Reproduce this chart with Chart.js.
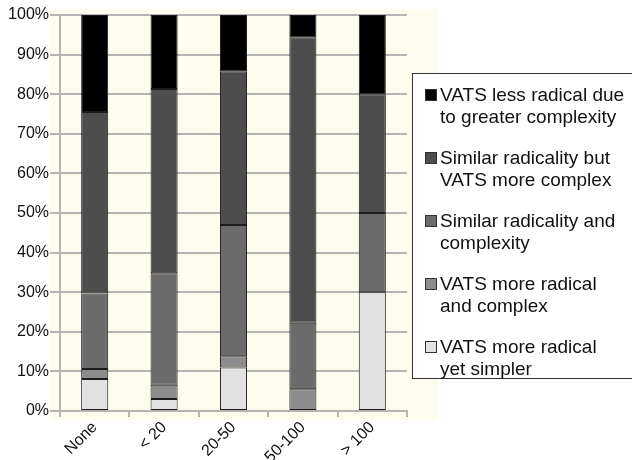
<!DOCTYPE html>
<html>
<head>
<meta charset="utf-8">
<script src="https://cdn.jsdelivr.net/npm/chart.js@4.4.1/dist/chart.umd.min.js"></script>
<style>
  html, body { margin: 0; padding: 0; background: #fff; }
  #wrap { position: relative; width: 632px; height: 460px; overflow: hidden; }
  #grafico { position: absolute; left: 0; top: 0; }
  #leyenda {
    position: absolute; left: 412px; top: 73px; width: 240px; height: 306px;
    border: 1.5px solid #333; background: #fff; box-sizing: border-box;
    font-family: "Liberation Sans", Arial, Helvetica, sans-serif; font-size: 19px;
    color: #111; padding-top: 10px;
  }
  .item { position: relative; padding-left: 27px; line-height: 22px; margin-bottom: 19px; }
  .caja { position: absolute; left: 12px; top: 5px; width: 10px; height: 10px; border: 1px solid #333; }
</style>
</head>
<body>
<div id="wrap">
  <canvas id="grafico" width="632" height="460"></canvas>
  <div id="leyenda"></div>
</div>
<script>
const categorias = ['None', '< 20', '20-50', '50-100', '> 100'];

// series from bottom of the stack to top
const seriesNombres = [
  ['VATS more radical', 'yet simpler'],
  ['VATS more radical', 'and complex'],
  ['Similar radicality and', 'complexity'],
  ['Similar radicality but', 'VATS more complex'],
  ['VATS less radical due', 'to greater complexity']
];
const masRadicalSimple = [8.1, 3.0, 11.0, 0, 30];
const masRadicalComplejo = [2.5, 3.6, 2.8, 5.5, 0];
const similarAmbos = [19.1, 28.2, 33.2, 16.8, 20];
const similarMasComplejo = [45.8, 46.5, 38.8, 72.1, 30];
const menosRadical = [24.5, 18.7, 14.2, 5.6, 20];
const colores = ['#e2e2e2', '#8c8c8c', '#6b6b6b', '#4d4d4d', '#000000'];

const valores = [masRadicalSimple, masRadicalComplejo, similarAmbos, similarMasComplejo, menosRadical];

const datasets = valores.map((v, i) => ({
  label: seriesNombres[i].join(' '),
  data: v,
  backgroundColor: colores[i],
  borderColor: '#1c1c1c',
  borderWidth: ctx => (ctx.raw ? 1 : 0), // no line for empty segments
  borderSkipped: false,
  barPercentage: 0.39,
  categoryPercentage: 1
}));

// cream plot background
const fondo = {
  id: 'fondo',
  beforeDraw(chart) {
    const a = chart.chartArea;
    const ctx = chart.ctx;
    ctx.save();
    ctx.fillStyle = '#fdfcef';
    ctx.fillRect(a.left - 10, a.top - 6, a.right - a.left + 41, a.bottom - a.top + 15);
    ctx.restore();
  }
};

const fuente = { family: '"Liberation Sans", Arial, Helvetica, sans-serif', size: 16 };
const gris = '#b4b4b4';

new Chart(document.getElementById('grafico').getContext('2d'), {
  type: 'bar',
  data: { labels: categorias, datasets: datasets },
  options: {
    responsive: false,
    devicePixelRatio: 1,
    animation: false,
    layout: { padding: { left: 0, right: 225, top: 15, bottom: 0 } },
    plugins: { legend: { display: false }, tooltip: { enabled: false } },
    scales: {
      x: {
        stacked: true,
        afterFit: s => { s.height = 49; },
        grid: { drawOnChartArea: false, color: gris, lineWidth: 2, tickLength: 6 },
        border: { color: gris, width: 2 },
        ticks: { color: '#111', font: fuente, minRotation: 45, maxRotation: 45, padding: 1 }
      },
      y: {
        stacked: true,
        min: 0,
        max: 100,
        afterFit: s => { s.width = 60; },
        grid: { color: gris, lineWidth: 2, tickLength: 10 },
        border: { color: gris, width: 2 },
        ticks: { stepSize: 10, color: '#111', font: fuente, padding: 1, callback: v => v + '%' }
      }
    }
  },
  plugins: [fondo]
});

// legend, top entry first
const leyenda = document.getElementById('leyenda');
for (let i = seriesNombres.length - 1; i >= 0; i--) {
  const item = document.createElement('div');
  item.className = 'item';
  const caja = document.createElement('span');
  caja.className = 'caja';
  caja.style.background = colores[i];
  item.appendChild(caja);
  item.appendChild(document.createTextNode(seriesNombres[i][0]));
  item.appendChild(document.createElement('br'));
  item.appendChild(document.createTextNode(seriesNombres[i][1]));
  leyenda.appendChild(item);
}
</script>
</body>
</html>
